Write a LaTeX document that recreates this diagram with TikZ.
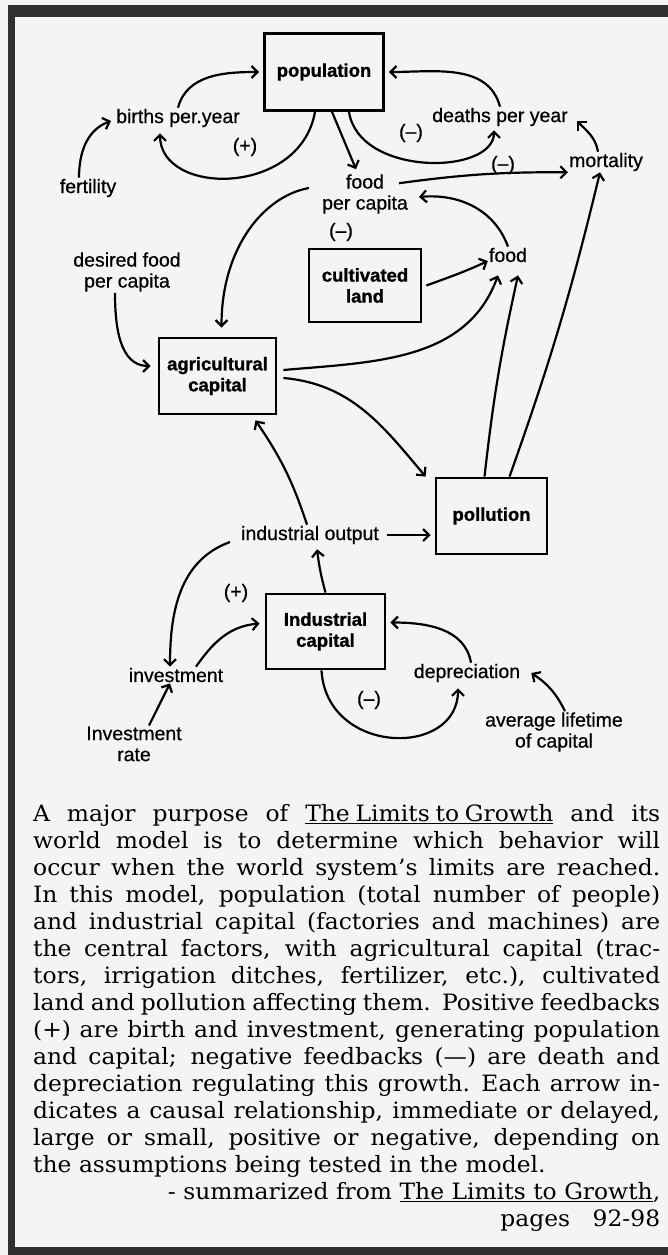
\documentclass[tikz,border=0pt]{standalone}
\usepackage{fontspec}
\setmainfont{DejaVu Serif}[FakeStretch=1.04]
\newfontfamily\lblfont{Liberation Sans}[FakeBold=0.6, BoldFeatures={FakeBold=1.2}]
\usepackage{tikz}
\usetikzlibrary{arrows.meta,positioning}
\definecolor{paper}{RGB}{244,244,242}
\definecolor{rim}{RGB}{48,48,48}
\newcommand\jline[1]{\hbox to 627pt{\spaceskip=0.26em plus 1fil\relax #1}}

\begin{document}
\begin{tikzpicture}[x=1pt,y=1pt]

\tikzstyle{lvl}=[draw, line width=2.8pt, align=center, inner sep=2pt,
    font=\lblfont\bfseries\fontsize{18.5}{21}\selectfont]
\tikzstyle{aux}=[align=center, inner sep=1pt,
    font=\lblfont\fontsize{19.5}{21}\selectfont]
\tikzstyle{sgn}=[inner sep=0pt, font=\lblfont\fontsize{19.5}{21}\selectfont]
\tikzstyle{causal}=[line width=2.2pt, -{Straight Barb[length=6pt,width=12pt]}]

\fill[paper] (0,0) rectangle (668,-1255);
\fill[rim] (8,-5) rectangle (668,-17);
\fill[rim] (8,-5) rectangle (15,-1255);
\fill[rim] (8,-1247) rectangle (668,-1255);
\useasboundingbox (0,0) rectangle (668,-1255);

\node[lvl, minimum width=119pt, minimum height=77pt] (pop) at (324,-72) {population};
\node[aux] (births) at (178,-118) {births per.year};
\node[aux] (deaths) at (500,-117) {deaths per year};
\node[aux] (mort) at (606,-162) {mortality};
\node[aux] (fert) at (88,-188) {fertility};
\node[aux] (fpc) at (365,-194) {food\\per capita};
\node[aux] (dfpc) at (127,-272) {desired food\\per capita};
\node[lvl, minimum width=112pt, minimum height=73pt] (land) at (365,-285.5) {cultivated\\land};
\node[aux] (food) at (508,-255) {food};
\node[lvl, minimum width=117pt, minimum height=76pt] (agcap) at (217.5,-376) {agricultural\\capital};
\node[lvl, minimum width=111pt, minimum height=76pt] (poll) at (491.5,-516) {pollution};
\node[aux] (indout) at (310,-535) {industrial output};
\node[lvl, minimum width=119pt, minimum height=75pt] (indcap) at (325.5,-631.5) {Industrial\\capital};
\node[aux] (invest) at (176,-675) {investment};
\node[aux] (invrate) at (134,-744) {Investment\\rate};
\node[aux] (deprec) at (467,-673) {depreciation};
\node[aux] (life) at (554,-732) {average lifetime\\of capital};

\node[sgn] (plusA) at (245,-147) {(+)};
\node[sgn] (minusA) at (411,-133) {(–)};
\node[sgn] (minusB) at (503,-165) {(–)};
\node[sgn] (minusC) at (341,-232) {(–)};
\node[sgn] (plusB) at (236,-593) {(+)};
\node[sgn] (minusD) at (369,-700) {(–)};

% population loops
\draw[causal] (births.north) to[out=75,in=180] ([xshift=-4pt]pop.west);
\draw[causal] ([xshift=-9pt]pop.south) .. controls +(-15,-85) and +(0,-63) .. ([xshift=-18pt,yshift=-5pt]births.south);
\draw[causal] (deaths.north) to[out=105,in=0] ([xshift=4pt]pop.east);
\draw[causal] ([xshift=25pt]pop.south) .. controls +(10,-65) and +(0,-45) .. ([xshift=-6pt,yshift=-3pt]deaths.south);
\draw[causal] ([xshift=8pt]pop.south) -- ([xshift=-9pt,yshift=4pt]fpc.north);
\draw[causal] ([xshift=-9pt]fert.north) to[out=90,in=200] ([xshift=-4pt,yshift=-3pt]births.west);
\draw[causal] ([xshift=-8pt]mort.north) to[out=100,in=-45] ([xshift=8pt,yshift=-4pt]deaths.east);

% food
\draw[causal] ([xshift=-10pt,yshift=-10pt]fpc.north east) to[bend left=4] (mort.south west);
\draw[causal] (food.north) to[out=110,in=5] ([xshift=10pt,yshift=-3pt]fpc.east);
\draw[causal] ([xshift=-12pt,yshift=6pt]fpc.west) .. controls +(-45,-8) and +(0,80) .. ([xshift=4pt,yshift=9pt]agcap.north);
\draw[causal] ([xshift=-12pt]dfpc.south) to[out=-90,in=180] ([xshift=-7pt,yshift=10pt]agcap.west);
\draw[causal] ([xshift=4pt]land.east) to[out=20,in=205] ([yshift=-6pt]food.west);
\draw[causal] ([xshift=6pt,yshift=6pt]agcap.east) to[out=5,in=-110] ([xshift=-10pt,yshift=-12pt]food.south);
\draw[causal] ([xshift=-7pt]poll.north) to[bend left=3] ([xshift=10pt,yshift=-12pt]food.south);
\draw[causal] ([xshift=18pt]poll.north) to[bend right=3] ([xshift=-6pt]mort.south);
\draw[causal] ([xshift=6pt,yshift=-2pt]agcap.east) to[out=-5,in=130] ([xshift=-9pt]poll.north west);

% capital
\draw[causal] ([xshift=-3pt]indout.north) to[bend right=8] ([xshift=38pt,yshift=-5pt]agcap.south);
\draw[causal, shorten <=7pt, shorten >=4pt] (indout.east) -- (indout.east -| poll.west);
\draw[causal] (indcap.north) to[bend left=4] ([xshift=7pt,yshift=-4pt]indout.south);
\draw[causal] ([xshift=-10pt,yshift=-7pt]indout.west) to[out=200,in=90] ([xshift=-6pt]invest.north);
\draw[causal] ([xshift=20pt]invest.north) to[out=55,in=185] ([xshift=-5pt,yshift=8pt]indcap.west);
\draw[causal] ([xshift=15pt]invrate.north) -- ([xshift=-6pt]invest.south);
\draw[causal] ([xshift=4pt]deprec.north) to[out=100,in=0] ([xshift=4pt,yshift=9pt]indcap.east);
\draw[causal] ([xshift=-4pt]indcap.south) .. controls +(5,-85) and +(0,-70) .. ([xshift=-9pt,yshift=-5pt]deprec.south);
\draw[causal] ([xshift=11pt]life.north) to[bend right=15] ([xshift=10pt]deprec.east);

\node[anchor=north west, inner sep=0pt, text width=627pt,
    font=\fontsize{22.5}{27}\selectfont] (blurb) at (33,-804) {%
\jline{A major purpose of \underline{The Limits to Growth} and its}
\jline{world model is to determine which behavior will}
\jline{occur when the world system’s limits are reached.}
\jline{In this model, population (total number of people)}
\jline{and industrial capital (factories and machines) are}
\jline{the central factors, with agricultural capital (trac-}
\jline{tors, irrigation ditches, fertilizer, etc.), cultivated}
\jline{land and pollution affecting them. Positive feedbacks}
\jline{(+) are birth and investment, generating population}
\jline{and capital; negative feedbacks (---) are death and}
\jline{depreciation regulating this growth. Each arrow in-}
\jline{dicates a causal relationship, immediate or delayed,}
\jline{large or small, positive or negative, depending on}
\hbox to 627pt{the assumptions being tested in the model.\hfill}
\hbox to 627pt{\hfill- summarized from \underline{The Limits to Growth},}
\hbox to 627pt{\hfill pages\quad 92-98}};

\end{tikzpicture}
\end{document}
